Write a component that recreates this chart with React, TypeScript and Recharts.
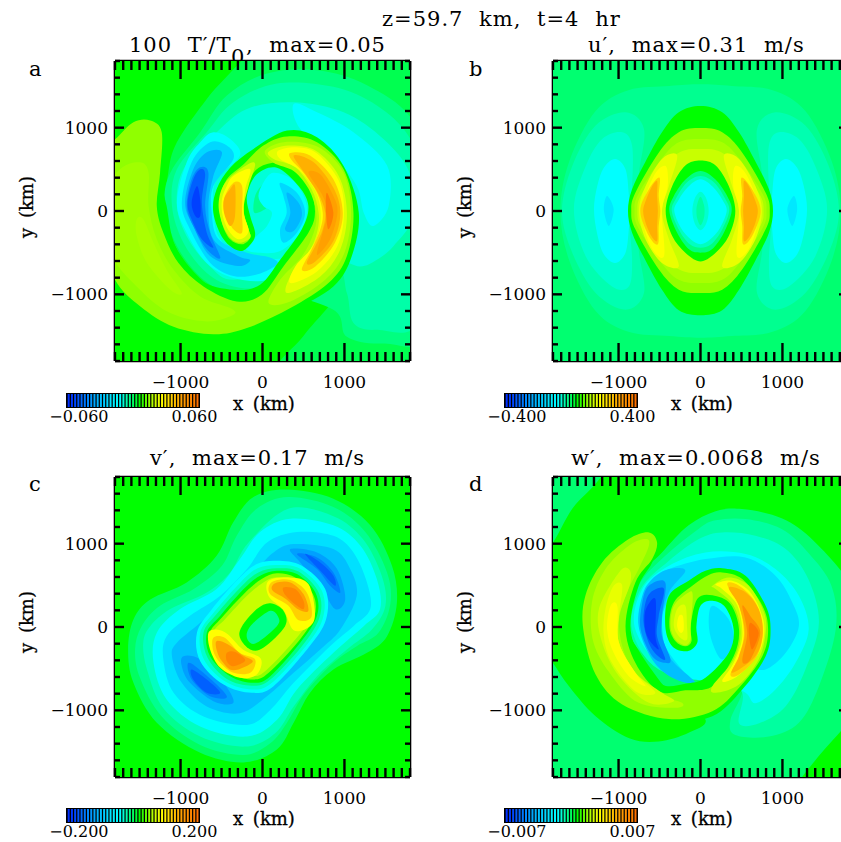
import React from 'react';
import { ScatterChart, Scatter, XAxis, YAxis, BarChart, Bar, Cell } from 'recharts';

type P = number[][];
// ---------- axis values ----------
const xTickValues = [-1800,-1700,-1600,-1500,-1400,-1300,-1200,-1100,-1000,-900,-800,-700,-600,-500,-400,-300,-200,-100,0,100,200,300,400,500,600,700,800,900,1000,1100,1200,1300,1400,1500,1600,1700,1800];
const yTickValues = [-1800,-1600,-1400,-1200,-1000,-800,-600,-400,-200,0,200,400,600,800,1000,1200,1400,1600,1800];
const majorTicks = [-1000,0,1000];
const colorbarSteps = [-20,-19,-18,-17,-16,-15,-14,-13,-12,-11,-10,-9,-8,-7,-6,-5,-4,-3,-2,-1,0,1,2,3,4,5,6,7,8,9,10,11,12,13,14,15,16,17,18,19,20];
const colorbarColors = ['#0030ff','#0038ff','#0048ff','#0058ff','#0068ff','#0078ff','#0088ff','#0098ff','#00a8ff','#00b4ff','#00c0ff','#00ccff','#00d8ff','#00e4ff','#00f0ff','#00f8ff','#00ffff','#00ffd8','#00ffb0','#00ff88','#00ff60','#00ff30','#00ff00','#30ff00','#60ff00','#90ff00','#b0ff00','#d0ff00','#e8ff00','#ffff00','#fff000','#ffe000','#ffd000','#ffc000','#ffb000','#ffa000','#ff9800','#ff9000','#ff8800','#ff8000','#ff7000'];
const fullField: P = [[-2400,2400],[2400,2400],[2400,-2400],[-2400,-2400]];

// ---------- panel a: 100 T'/T0 contours (km) ----------
const a1: P = [[-150,1950],[1000,2100],[2090,1950],[2200,0],[2090,-1950],[1000,-2100],[175,-1950],[500,-1500],[910,-1000],[800,-800],[400,-800],[-30,-905],[-350,-1025],[-720,-845],[-1065,-420],[-1175,60],[-1150,460],[-1045,825],[-680,1345],[-450,1600],[-250,1810]];
const a2: P = [[-760,945],[-435,1385],[55,1650],[665,1690],[1275,1510],[1845,1065],[2090,140],[2090,-1465],[1480,-1590],[1030,-1510],[865,-1185],[55,-945],[-355,-985],[-720,-825],[-1045,-420],[-1190,60],[-1125,460]];
const a3: P = [[-680,945],[-355,1305],[175,1530],[865,1490],[1395,1265],[1805,865],[2090,140],[1925,-1305],[1395,-1425],[1110,-1345],[1030,-985],[865,-665],[55,-905],[-355,-905],[-680,-745],[-965,-380],[-1105,60],[-1045,500]];
const a4: P = [[-600,905],[-190,1225],[380,1305],[990,1185],[1475,865],[1795,460],[1845,-60],[1600,-420],[1395,-585],[1190,-665],[865,-585],[255,-665],[-355,-825],[-640,-665],[-905,-340],[-1045,60],[-965,500]];
const a5: P = [[380,1285],[665,1185],[1110,945],[1520,545],[1540,60],[1355,-180],[1235,-20],[1150,300],[865,665],[460,985]];
const a6: P = [[-600,945],[-395,865],[-275,665],[-560,380],[-600,60],[-515,-340],[-110,-585],[255,-585],[55,-825],[-355,-805],[-680,-625],[-925,-260],[-1045,100],[-925,585],[-760,825]];
const a7: P = [[-640,825],[-435,785],[-355,625],[-600,300],[-620,-20],[-535,-340],[-190,-500],[100,-560],[180,-640],[-60,-760],[-355,-780],[-640,-620],[-885,-220],[-985,100],[-865,585]];
const a8: P = [[-680,705],[-495,705],[-600,420],[-660,60],[-600,-340],[-300,-540],[-150,-590],[-300,-660],[-640,-540],[-845,-180],[-945,100],[-845,500]];
const a9: P = [[-760,525],[-660,460],[-700,60],[-640,-260],[-515,-565],[-680,-460],[-845,-180],[-925,60],[-865,380]];
const a10: P = [[-760,500],[-700,440],[-740,100],[-680,-260],[-600,-440],[-740,-340],[-865,-100],[-915,100],[-845,380]];
const a11: P = [[-800,300],[-760,140],[-760,-60],[-820,-60],[-865,100]];
const aC5: P = [[135,460],[380,360],[540,60],[460,-260],[215,-480],[-50,-500],[-190,-470],[-190,-420],[-70,-300],[55,-180],[115,-20],[10,60],[-50,180],[10,340]];
const aC6: P = [[215,340],[420,220],[520,-20],[420,-260],[255,-380],[215,-220],[295,-20],[255,180]];
const aC7: P = [[295,220],[440,100],[480,-60],[380,-240],[275,-220],[340,-20]];
const aC2: P = [[10,320],[-90,180],[-100,-20],[55,40],[115,140],[95,260]];
const aP0: P = [[-1575,1065],[-1370,1085],[-1230,945],[-1250,460],[-1170,60],[-1065,-420],[-760,-825],[-355,-945],[-30,-885],[215,-585],[480,-220],[560,60],[440,300],[175,520],[-70,440],[-190,180],[-150,-60],[-90,-260],[-130,-380],[-275,-480],[-475,-340],[-600,-20],[-560,260],[-395,520],[-110,745],[300,965],[665,885],[990,540],[1175,-20],[1090,-540],[865,-905],[340,-1205],[-190,-1425],[-600,-1490],[-1085,-1390],[-1490,-1145],[-1800,-785],[-1980,-260],[-1980,745],[-1800,860]];
const aP1: P = [[-1575,1065],[-1370,1085],[-1230,945],[-1250,460],[-1290,60],[-1210,-260],[-1025,-625],[-720,-905],[-315,-1085],[-10,-1005],[255,-665],[560,-260],[640,-20],[580,260],[380,500],[155,580],[-70,500],[-210,260],[-230,-20],[-170,-220],[-150,-320],[-250,-400],[-395,-340],[-495,-140],[-515,140],[-435,380],[-230,560],[10,785],[300,895],[665,825],[990,500],[1110,-20],[1030,-540],[805,-865],[340,-1165],[-190,-1405],[-600,-1480],[-1085,-1390],[-1490,-1145],[-1800,-825],[-1980,-260],[-1980,745],[-1800,860]];
const aP2: P = [[-1740,500],[-1495,585],[-1390,460],[-1390,60],[-1290,-340],[-1085,-705],[-760,-1025],[-395,-1165],[-355,-1245],[-680,-1325],[-1125,-1225],[-1495,-945],[-1860,-500],[-1980,140]];
const aP3: P = [[-1535,-100],[-1455,-100],[-1330,-380],[-1170,-705],[-985,-985],[-1125,-945],[-1410,-625],[-1535,-300]];
const aR3: P = [[33,725],[300,830],[685,765],[990,460],[1080,-20],[1000,-500],[765,-825],[340,-1085],[75,-1105],[215,-825],[480,-545],[625,-260],[655,-20],[565,260],[380,480],[135,580]];
const aR5: P = [[75,710],[315,785],[645,725],[930,420],[1030,-20],[950,-460],[705,-785],[300,-985],[360,-745],[560,-505],[665,-260],[685,-20],[600,260],[400,525],[135,625]];
const aR6: P = [[195,725],[420,765],[665,690],[930,365],[995,-20],[915,-420],[665,-725],[340,-865],[400,-665],[580,-465],[685,-260],[710,-20],[645,240],[440,500],[215,625]];
const aR7: P = [[340,695],[580,665],[865,380],[980,-20],[885,-380],[645,-665],[480,-705],[600,-460],[705,-220],[735,-20],[665,220],[500,460],[360,605]];
const aR8: P = [[380,665],[625,585],[865,280],[950,-20],[865,-360],[645,-605],[540,-625],[645,-420],[735,-220],[765,-20],[685,200],[540,420]];
const aR9: P = [[560,460],[705,440],[865,180],[915,-20],[825,-340],[665,-525],[745,-220],[795,-20],[725,200]];
const aR10: P = [[785,220],[865,-20],[805,-220],[775,-20]];
const aL4: P = [[-210,540],[-90,565],[-170,300],[-230,20],[-170,-220],[-150,-320],[-275,-380],[-395,-320],[-495,-140],[-535,100],[-455,340]];
const aL6: P = [[-355,420],[-150,500],[-210,260],[-230,-20],[-170,-240],[-275,-340],[-395,-260],[-485,-60],[-495,140],[-435,300]];
const aL7: P = [[-355,340],[-250,300],[-250,-20],[-250,-260],[-355,-220],[-435,-60],[-470,140]];
const aL8: P = [[-395,260],[-335,300],[-335,-60],[-395,-180],[-470,-20],[-470,140]];

// ---------- panel b: u' contours (km) ----------
const b1: P = [[-1710,0],[-1600,600],[-1280,1200],[-880,1450],[-380,1500],[0,1520],[380,1500],[880,1450],[1280,1200],[1600,600],[1710,0],[1600,-600],[1280,-1200],[880,-1450],[380,-1500],[0,-1520],[-380,-1500],[-880,-1450],[-1280,-1200],[-1600,-600]];
const b2L: P = [[-1690,0],[-1565,540],[-1280,1025],[-915,1185],[-690,985],[-750,460],[-795,-20],[-750,-500],[-690,-985],[-915,-1185],[-1280,-985],[-1565,-500]];
const b2R: P = [[1690,0],[1565,540],[1280,1025],[915,1185],[690,985],[750,460],[795,-20],[750,-500],[690,-985],[915,-1185],[1280,-985],[1565,-500]];
const b3L: P = [[-1545,20],[-1400,540],[-1200,865],[-955,945],[-835,785],[-835,300],[-875,-20],[-835,-585],[-875,-905],[-1080,-905],[-1400,-545]];
const b3R: P = [[1545,20],[1400,540],[1200,865],[955,945],[835,785],[835,300],[875,-20],[835,-585],[875,-905],[1080,-905],[1400,-545]];
const b4L: P = [[-1300,20],[-1260,300],[-1180,520],[-1040,625],[-915,500],[-875,200],[-865,-20],[-875,-220],[-915,-500],[-1040,-625],[-1180,-520],[-1260,-280]];
const b4R: P = [[1300,20],[1260,300],[1180,520],[1040,625],[915,500],[875,200],[865,-20],[875,-220],[915,-500],[1040,-625],[1180,-520],[1260,-280]];
const b5L: P = [[-1180,20],[-1140,180],[-1060,20],[-1120,-180]];
const b5R: P = [[1180,20],[1140,180],[1060,20],[1120,-180]];
const bD0: P = [[0,1260],[265,1185],[470,945],[675,585],[835,260],[885,0],[835,-260],[675,-585],[470,-945],[265,-1190],[0,-1250],[-265,-1190],[-470,-945],[-675,-585],[-835,-260],[-885,0],[-835,260],[-675,585],[-470,945],[-265,1185]];
const bD1: P = [[0,995],[265,945],[510,700],[795,220],[845,0],[795,-220],[510,-700],[265,-945],[0,-985],[-265,-945],[-510,-700],[-795,-220],[-845,0],[-795,220],[-510,700],[-265,945]];
const bD2: P = [[0,865],[265,825],[480,620],[760,200],[805,0],[760,-200],[480,-620],[265,-825],[0,-865],[-265,-825],[-480,-620],[-760,-200],[-805,0],[-760,200],[-480,620],[-265,825]];
const bD3: P = [[0,745],[220,720],[440,560],[720,200],[770,0],[720,-200],[440,-560],[220,-720],[0,-745],[-220,-720],[-440,-560],[-720,-200],[-770,0],[-720,200],[-440,560],[-220,720]];
const bY1R: P = [[285,665],[470,625],[670,300],[750,0],[670,-340],[470,-625],[265,-665],[385,-340],[470,0],[385,300]];
const bY1L: P = [[-285,665],[-470,625],[-670,300],[-750,0],[-670,-340],[-470,-625],[-265,-665],[-385,-340],[-470,0],[-385,300]];
const bY2R: P = [[425,540],[570,420],[710,0],[610,-420],[445,-540],[470,0],[400,300]];
const bY2L: P = [[-425,540],[-570,420],[-710,0],[-610,-420],[-445,-540],[-470,0],[-400,300]];
const bY3R: P = [[500,400],[630,260],[735,0],[630,-300],[520,-400],[510,-180],[490,0],[510,180]];
const bY3L: P = [[-500,400],[-630,260],[-735,0],[-630,-300],[-520,-400],[-510,-180],[-490,0],[-510,180]];
const bY4R: P = [[530,360],[600,280],[670,120],[700,0],[670,-140],[600,-300],[530,-360],[530,-180],[520,0],[530,180]];
const bY4L: P = [[-530,360],[-600,280],[-670,120],[-700,0],[-670,-140],[-600,-300],[-530,-360],[-530,-180],[-520,0],[-530,180]];
const bH0: P = [[0,605],[185,545],[345,300],[425,0],[345,-300],[185,-500],[0,-605],[-185,-500],[-345,-300],[-425,0],[-345,300],[-185,545]];
const bH1: P = [[0,480],[180,380],[325,180],[380,0],[285,-260],[140,-460],[0,-500],[-140,-460],[-285,-260],[-380,0],[-325,180],[-180,380]];
const bH2: P = [[0,420],[170,340],[300,150],[350,0],[260,-230],[130,-400],[0,-440],[-130,-400],[-260,-230],[-350,0],[-300,150],[-170,340]];
const bH3: P = [[0,380],[150,290],[270,130],[320,0],[240,-200],[120,-340],[0,-400],[-120,-340],[-240,-200],[-320,0],[-270,130],[-150,290]];
const bH4: P = [[0,230],[70,150],[100,0],[70,-150],[0,-230],[-70,-150],[-100,0],[-70,150]];
const bH5: P = [[0,170],[40,80],[50,0],[40,-90],[0,-170],[-40,-90],[-50,0],[-40,80]];

// ---------- panel c: v' contours (km) ----------
const c1: P = [[295,1650],[865,1540],[1315,1220],[1580,735],[1640,290],[1520,-110],[1275,-310],[865,-510],[580,-790],[380,-1150],[175,-1470],[-230,-1625],[-760,-1510],[-1290,-1150],[-1575,-670],[-1640,-270],[-1575,90],[-1370,330],[-925,535],[-560,855],[-355,1260],[-110,1560]];
const c2: P = [[315,1560],[865,1440],[1255,1140],[1520,655],[1560,275],[1415,-70],[1150,-230],[865,-430],[520,-790],[295,-1155],[95,-1395],[-230,-1535],[-760,-1415],[-1230,-1075],[-1495,-610],[-1555,-270],[-1475,10],[-1250,255],[-840,455],[-495,735],[-315,1095],[-70,1420]];
const c3: P = [[315,1420],[865,1330],[1225,1055],[1455,615],[1500,255],[1335,-30],[1030,-270],[665,-590],[380,-955],[155,-1275],[-210,-1435],[-760,-1315],[-1210,-975],[-1410,-510],[-1455,-190],[-1370,10],[-1125,215],[-680,415],[-395,655],[-170,1015]];
const c4: P = [[340,1300],[865,1220],[1195,975],[1395,575],[1435,215],[1235,10],[865,-310],[420,-750],[175,-1115],[-190,-1315],[-760,-1195],[-1170,-870],[-1330,-430],[-1290,-70],[-1005,215],[-560,455],[-275,815],[-30,1140]];
const c5: P = [[420,1140],[865,1095],[1110,895],[1275,535],[1315,215],[1110,10],[825,-230],[380,-670],[95,-995],[-190,-1175],[-720,-1075],[-1085,-790],[-1210,-390],[-1170,-110],[-885,135],[-515,375],[-190,695],[55,1015]];
const c6: P = [[380,995],[865,935],[1070,695],[1150,375],[950,-30],[705,-270],[380,-550],[55,-830],[-275,-1035],[-680,-955],[-985,-670],[-1105,-350],[-1045,-190],[-760,50],[-435,335],[-70,695],[135,895]];
const c7a: P = [[340,935],[665,895],[910,695],[1010,335],[885,215],[705,495],[460,775]];
const c7b: P = [[-965,-350],[-760,-390],[-475,-670],[-355,-910],[-600,-890],[-885,-670],[-985,-470]];
const c8a: P = [[420,875],[665,835],[865,655],[950,415],[825,495],[665,695]];
const c8b: P = [[-905,-430],[-720,-550],[-435,-830],[-640,-830],[-865,-630]];
const c9a: P = [[520,875],[705,775],[865,615],[885,495],[725,655]];
const c9b: P = [[-865,-510],[-680,-630],[-515,-790],[-680,-790],[-845,-630]];
const cIa: P = [[175,795],[480,735],[765,455],[775,90],[560,-250],[135,-710],[-130,-790],[-475,-690],[-760,-410],[-800,-70],[-620,210],[-295,575],[-70,755]];
const cIb: P = [[175,745],[460,700],[725,435],[735,100],[520,-240],[115,-670],[-130,-750],[-455,-655],[-715,-390],[-760,-70],[-590,180],[-270,535],[-60,705]];
const cI0: P = [[175,705],[440,665],[685,415],[695,115],[480,-230],[95,-630],[-130,-705],[-435,-625],[-670,-370],[-720,-70],[-560,155],[-250,495],[-50,655]];
const cI1: P = [[175,675],[420,635],[645,415],[665,135],[460,-190],[95,-590],[-110,-670],[-395,-590],[-640,-350],[-680,-70],[-515,135],[-230,455],[-30,615]];
const cI2: P = [[175,645],[400,595],[615,395],[635,135],[440,-170],[75,-550],[-110,-630],[-375,-560],[-600,-330],[-640,-70],[-495,115],[-210,415],[-10,575]];
const cI3: P = [[155,595],[380,555],[575,375],[600,135],[400,-150],[55,-510],[-110,-590],[-355,-520],[-560,-310],[-600,-70],[-455,95],[-190,375],[10,535]];
const cY1a: P = [[75,555],[340,595],[560,515],[640,175],[580,10],[380,-40],[260,200],[75,370]];
const cY1b: P = [[-660,-70],[-560,-30],[-420,-90],[-240,-270],[-20,-380],[-70,-570],[-275,-610],[-515,-490],[-640,-270]];
const cY2a: P = [[115,540],[340,565],[540,415],[600,130],[440,80],[310,260],[90,400]];
const cY2b: P = [[-600,-130],[-460,-130],[-280,-310],[-90,-390],[-150,-550],[-355,-550],[-515,-430],[-600,-290]];
const cY3a: P = [[155,525],[340,535],[500,395],[560,195],[440,210],[280,340],[120,440]];
const cY3b: P = [[-560,-170],[-420,-210],[-240,-340],[-120,-420],[-355,-520],[-495,-410],[-555,-290]];
const cY4a: P = [[255,475],[400,455],[500,315],[500,215],[400,270],[280,380]];
const cY4b: P = [[-435,-310],[-335,-300],[-210,-400],[-355,-470],[-435,-410]];
const cH0: P = [[95,285],[255,195],[275,10],[10,-250],[-150,-270],[-275,-130],[-250,10],[-70,215]];
const cH1: P = [[95,195],[195,115],[175,10],[-70,-190],[-170,-170],[-190,-70],[-110,50]];

// ---------- panel d: w' contours (km) ----------
const d1: P = [[-2000,975],[-1830,975],[-1565,1420],[-1280,1720],[-1130,1950],[-1280,2100],[-2000,2100]];
const d2: P = [[-145,1220],[185,1390],[505,1415],[990,1305],[1395,1020],[1850,455],[2000,-300],[1850,-1030],[1730,-1230],[1485,-1500],[1240,-1800],[1150,-1950],[-300,-2100],[-2000,-2000],[-2000,-200],[-1830,-390],[-1605,-710],[-1280,-1070],[-870,-1335],[-510,-1375],[-145,-1270],[60,-1110],[-345,-830],[-875,-30],[-755,575],[-470,895]];
const d3: P = [[-20,1180],[185,1280],[550,1295],[990,1175],[1315,890],[1600,490],[1650,-30],[1445,-710],[1200,-1150],[835,-1315],[425,-1295],[365,-1115],[510,-750],[265,-630],[-550,-430],[-875,-30],[-755,495],[-430,855]];
const d4: P = [[-20,1055],[265,1135],[670,1095],[1040,935],[1315,575],[1445,50],[1280,-510],[1040,-950],[715,-1155],[470,-1155],[510,-790],[225,-670],[-510,-510],[-835,-30],[-730,455],[-385,795]];
const d5: P = [[-385,735],[60,895],[550,875],[915,695],[1200,375],[1320,-30],[1160,-430],[915,-750],[670,-915],[550,-790],[265,-670],[-385,-550],[-795,-30],[-710,455]];
const d6: P = [[-385,695],[60,815],[550,835],[915,615],[1120,295],[1200,10],[1040,-310],[795,-510],[630,-430],[670,-30],[510,450],[185,655],[-265,455],[-470,130],[-430,-230],[-145,-630],[-385,-550],[-630,-190],[-710,255],[-550,575]];
const d7: P = [[-590,575],[-385,695],[-185,675],[-385,415],[-470,50],[-385,-350],[-60,-670],[-345,-610],[-590,-390],[-755,10],[-710,375]];
const d8: P = [[-630,495],[-430,535],[-470,130],[-470,-110],[-365,-390],[-430,-430],[-590,-350],[-730,-30],[-710,295]];
const d9: P = [[-610,415],[-445,455],[-510,130],[-530,-110],[-430,-390],[-590,-270],[-690,10],[-680,255]];
const d10: P = [[-665,215],[-550,335],[-550,-110],[-510,-270],[-630,-150],[-680,10]];
const d11: P = [[145,255],[345,90],[405,-190],[265,-390],[145,-190],[100,50]];
const dP0: P = [[-630,1135],[-530,1015],[-590,775],[-755,495],[-855,10],[-730,-390],[-470,-690],[-185,-680],[60,-610],[345,-310],[405,-30],[305,235],[145,315],[0,255],[-50,10],[-40,-190],[-160,-290],[-345,-230],[-430,10],[-385,375],[-145,555],[60,675],[265,705],[550,615],[795,255],[855,-30],[795,-350],[510,-750],[145,-1070],[-385,-1130],[-955,-950],[-1280,-590],[-1430,-30],[-1405,375],[-1200,775],[-875,1055]];
const dP1: P = [[-630,1135],[-530,1015],[-590,815],[-795,535],[-915,10],[-795,-430],[-510,-770],[-185,-760],[145,-710],[405,-350],[470,-30],[365,275],[145,380],[-40,335],[-120,10],[-110,-170],[-185,-230],[-305,-170],[-380,10],[-325,295],[-100,495],[100,625],[265,655],[510,575],[755,255],[825,-30],[755,-350],[470,-730],[145,-1010],[-385,-1105],[-955,-930],[-1280,-570],[-1430,-30],[-1405,375],[-1200,775],[-875,1055]];
const dA2: P = [[-875,975],[-670,1055],[-630,975],[-755,695],[-915,375],[-995,10],[-875,-430],[-550,-790],[-225,-910],[-305,-970],[-755,-910],[-1080,-590],[-1305,-190],[-1325,295],[-1160,695]];
const dA3: P = [[-995,655],[-875,695],[-855,535],[-995,130],[-995,-190],[-795,-550],[-470,-790],[-325,-890],[-630,-910],[-995,-590],[-1200,-190],[-1240,215]];
const dA4: P = [[-1060,495],[-955,495],[-995,130],[-995,-190],[-795,-550],[-550,-790],[-795,-770],[-1080,-430],[-1180,-110],[-1160,215]];
const dA5: P = [[-1100,250],[-1015,250],[-995,-190],[-795,-550],[-670,-710],[-875,-590],[-1060,-310],[-1140,-30]];
const dR0: P = [[145,495],[345,595],[590,495],[775,175],[795,-70],[710,-390],[470,-690],[185,-790],[145,-710],[405,-390],[490,-70],[405,255],[185,455]];
const dR1: P = [[185,515],[385,555],[610,415],[755,130],[775,-110],[690,-350],[450,-590],[265,-650],[405,-430],[510,-110],[450,255],[265,455]];
const dR2: P = [[325,515],[470,495],[670,295],[760,-30],[690,-350],[470,-570],[365,-570],[470,-350],[530,-70],[470,255]];
const dR3: P = [[345,475],[550,415],[710,215],[760,-70],[670,-350],[385,-550],[470,-350],[540,-70],[470,255]];
const dR4: P = [[510,255],[610,130],[730,-70],[610,-390],[510,-410],[570,-70]];
const dR5: P = [[610,50],[710,-70],[630,-270],[590,-70]];
const dL1: P = [[-325,255],[-145,415],[-95,375],[-120,10],[-120,-150],[-185,-220],[-305,-150],[-365,10]];
const dL2: P = [[-285,215],[-185,255],[-165,10],[-165,-150],[-245,-130],[-325,10]];
const dL3: P = [[-265,130],[-215,130],[-205,-30],[-245,-70],[-285,10]];

// ---------- paint order: [contour, fill] ----------
type Layer = [P, string];
const layersA: Layer[] = [[fullField,'#00ff00'],[a1,'#00ff50'],[a2,'#00ff80'],[a3,'#00ffa8'],[a4,'#00ffd8'],[a5,'#00ffff'],[a6,'#00ffff'],[a7,'#00d8ff'],[a8,'#00b0ff'],[a9,'#0088ff'],[a10,'#0060ff'],[a11,'#0040ff'],[aC2,'#00ff90'],[aC5,'#00ffff'],[aC6,'#00d8ff'],[aC7,'#00b8ff'],[aP0,'#00ff00'],[aP1,'#90ff00'],[aP2,'#a0ff00'],[aP3,'#aaff00'],[aR3,'#b0ff00'],[aR5,'#e0ff00'],[aR6,'#ffff00'],[aR7,'#ffd000'],[aR8,'#ffb000'],[aR9,'#ffa000'],[aR10,'#ff8000'],[aL4,'#d0ff00'],[aL6,'#ffff00'],[aL7,'#ffd000'],[aL8,'#ffb000']];
const layersB: Layer[] = [[fullField,'#00ff70'],[b1,'#00ff90'],[b2L,'#00ffb0'],[b2R,'#00ffb0'],[b3L,'#00ffd0'],[b3R,'#00ffd0'],[b4L,'#00ffff'],[b4R,'#00ffff'],[b5L,'#00e8ff'],[b5R,'#00e8ff'],[bD0,'#00ff00'],[bD1,'#90ff00'],[bD2,'#a8ff00'],[bD3,'#c8ff00'],[bY1R,'#e8ff00'],[bY1L,'#e8ff00'],[bY2R,'#ffff00'],[bY2L,'#ffff00'],[bY3R,'#ffd000'],[bY3L,'#ffd000'],[bY4R,'#ffb000'],[bY4L,'#ffb000'],[bH0,'#00ff00'],[bH1,'#00ff80'],[bH2,'#00ffc0'],[bH3,'#00ffff'],[bH4,'#00ffd0'],[bH5,'#00ffa0']];
const layersC: Layer[] = [[fullField,'#00ff00'],[c1,'#00ff60'],[c2,'#00ff90'],[c3,'#00ffc0'],[c4,'#00ffff'],[c5,'#00e0ff'],[c6,'#00c0ff'],[c7a,'#00a0ff'],[c7b,'#00a0ff'],[c8a,'#0080ff'],[c8b,'#0080ff'],[c9a,'#0060ff'],[c9b,'#0060ff'],[cIa,'#00ffff'],[cIb,'#00ffd0'],[cI0,'#00ff80'],[cI1,'#00ff00'],[cI2,'#90ff00'],[cI3,'#c8ff00'],[cY1a,'#ffff00'],[cY1b,'#ffff00'],[cY2a,'#ffd000'],[cY2b,'#ffd000'],[cY3a,'#ffa000'],[cY3b,'#ffa000'],[cY4a,'#ff8800'],[cY4b,'#ff8800'],[cH0,'#00ff00'],[cH1,'#00ff90']];
const layersD: Layer[] = [[fullField,'#00ff00'],[d1,'#00ff70'],[d2,'#00ff70'],[d3,'#00ffa0'],[d4,'#00ffd0'],[d5,'#00ffff'],[d6,'#00e0ff'],[d7,'#00c0ff'],[d8,'#0090ff'],[d9,'#0060ff'],[d10,'#0040ff'],[d11,'#00e0ff'],[dP0,'#00ff00'],[dP1,'#90ff00'],[dA2,'#b0ff00'],[dA3,'#d0ff00'],[dA4,'#e8ff00'],[dA5,'#ffff00'],[dR0,'#c8ff00'],[dR1,'#ffff00'],[dR2,'#ffd000'],[dR3,'#ffb000'],[dR4,'#ff9000'],[dR5,'#ff7800'],[dL1,'#c0ff00'],[dL2,'#e0ff00'],[dL3,'#ffff00']];

const FONT = '"DejaVu Serif", serif';
const toRows = (pts: P) => pts.map(([x, y]) => ({ x, y }));
const noMark = () => <g />;

// closed smooth outline through the points the library has already scaled
function closedSpline(pts: { x: number; y: number }[]) {
  const n = pts.length;
  let d = `M${pts[0].x},${pts[0].y}`;
  for (let i = 0; i < n; i++) {
    const p0 = pts[(i - 1 + n) % n], p1 = pts[i], p2 = pts[(i + 1) % n], p3 = pts[(i + 2) % n];
    d += `C${p1.x + (p2.x - p0.x) / 6},${p1.y + (p2.y - p0.y) / 6} ${p2.x - (p3.x - p1.x) / 6},${p2.y - (p3.y - p1.y) / 6} ${p2.x},${p2.y}`;
  }
  return d + 'Z';
}

const label = (v: number) => (v < 0 ? `\u2212${Math.abs(v)}` : `${v}`);

const XTick = (side: 'top' | 'bottom') => (p: any) => {
  const major = majorTicks.includes(p.payload.value);
  const len = major ? 18 : 9;
  const dir = side === 'bottom' ? -1 : 1;
  return (
    <g>
      <line x1={p.x} x2={p.x} y1={p.y} y2={p.y + dir * len} stroke="#000" strokeWidth={2.4} />
      {side === 'bottom' && major && (
        <text x={p.x} y={p.y + 27} textAnchor="middle" fontSize={17} fontFamily={FONT} fill="#000">{label(p.payload.value)}</text>
      )}
    </g>
  );
};
const YTick = (side: 'left' | 'right') => (p: any) => {
  const major = majorTicks.includes(p.payload.value);
  const len = major ? 9 : 5;
  const dir = side === 'left' ? 1 : -1;
  return (
    <g>
      <line x1={p.x} x2={p.x + dir * len} y1={p.y} y2={p.y} stroke="#000" strokeWidth={2.4} />
      {side === 'left' && major && (
        <text x={p.x - 7} y={p.y + 6} textAnchor="end" fontSize={17} fontFamily={FONT} fill="#000">{label(p.payload.value)}</text>
      )}
    </g>
  );
};

const frameLine = { stroke: '#000', strokeWidth: 2.6 };
const domain: [number, number] = [-1800, 1800];

function Panel({ layers, left, top }: { layers: Layer[]; left: number; top: number }) {
  return (
    <div style={{ position: 'absolute', left, top }}>
      <ScatterChart width={440} height={400} margin={{ left: 114, top: 60, right: 29, bottom: 38 }}>
        <XAxis type="number" dataKey="x" domain={domain} allowDataOverflow ticks={xTickValues} interval={0} height={1} tickSize={0} tickMargin={0} tickLine={false} axisLine={frameLine} tick={XTick('bottom')} />
        <XAxis xAxisId="top" orientation="top" type="number" dataKey="x" domain={domain} allowDataOverflow ticks={xTickValues} interval={0} height={1} tickSize={0} tickMargin={0} tickLine={false} axisLine={frameLine} tick={XTick('top')} />
        <YAxis type="number" dataKey="y" domain={domain} allowDataOverflow ticks={yTickValues} interval={0} width={1} tickSize={0} tickMargin={0} tickLine={false} axisLine={frameLine} tick={YTick('left')} />
        <YAxis yAxisId="right" orientation="right" type="number" dataKey="y" domain={domain} allowDataOverflow ticks={yTickValues} interval={0} width={1} tickSize={0} tickMargin={0} tickLine={false} axisLine={frameLine} tick={YTick('right')} />
        {layers.map(([pts, fill], i) => (
          <Scatter key={i} data={toRows(pts)} isAnimationActive={false} shape={noMark}
            line={(lp: any) => <path d={closedSpline(lp.points)} fill={fill} stroke="none" />} />
        ))}
      </ScatterChart>
    </div>
  );
}

function Colorbar({ left, top, lo, hi }: { left: number; top: number; lo: string; hi: string }) {
  const rows = colorbarSteps.map((step) => ({ step, h: 1 }));
  return (
    <>
      <div style={{ position: 'absolute', left, top, width: 132, height: 13, background: '#000', border: '1px solid #000' }}>
        <BarChart width={132} height={13} data={rows} margin={{ left: 0, right: 0, top: 0, bottom: 0 }} barCategoryGap={0.7}>
          <XAxis dataKey="step" hide />
          <YAxis hide domain={[0, 1]} />
          <Bar dataKey="h" isAnimationActive={false}>
            {rows.map((_, i) => <Cell key={i} fill={colorbarColors[i]} />)}
          </Bar>
        </BarChart>
      </div>
      <div style={{ position: 'absolute', left: left - 40, top: top + 14, width: 83, textAlign: 'right', font: `16px ${FONT}`, lineHeight: '19px' }}>{lo}</div>
      <div style={{ position: 'absolute', left: left + 106, top: top + 14, font: `16px ${FONT}`, lineHeight: '19px' }}>{hi}</div>
    </>
  );
}

const T = (p: any) => <text fontFamily={FONT} fontSize={21} letterSpacing={1} wordSpacing={8} fill="#000" {...p} />;
const AxisWords = ({ dx, dy }: { dx: number; dy: number }) => (
  <g fontFamily={FONT} fontSize={18} fill="#000" stroke="#000" strokeWidth={0.3} wordSpacing={4}>
    <text x={233 + dx} y={410 + dy}>x (km)</text>
    <text transform={`translate(${33 + dx},${207 + dy}) rotate(-90)`} textAnchor="middle">y (km)</text>
  </g>
);

export default function App() {
  return (
    <div style={{ position: 'absolute', left: 0, top: 0, width: 841, height: 842, overflow: 'hidden', background: '#fff' }}>
      <svg width={841} height={842} style={{ position: 'absolute', left: 0, top: 0 }}>
        <T x={382} y={26}>z=59.7 km, t=4 hr</T>
        <T x={129} y={52}>100 T′/T</T>
        <T x={231} y={64}>0</T>
        <T x={246} y={52}>, max=0.05</T>
        <T x={588} y={52}>u′, max=0.31 m/s</T>
        <T x={150} y={465}>v′, max=0.17 m/s</T>
        <T x={571} y={465}>w′, max=0.0068 m/s</T>
        <T x={29} y={76}>a</T>
        <T x={469} y={76}>b</T>
        <T x={29} y={491}>c</T>
        <T x={469} y={491}>d</T>
        <AxisWords dx={0} dy={0} />
        <AxisWords dx={438} dy={0} />
        <AxisWords dx={0} dy={415} />
        <AxisWords dx={438} dy={415} />
      </svg>
      <Panel layers={layersA} left={0} top={0} />
      <Panel layers={layersB} left={437.6} top={0} />
      <Panel layers={layersC} left={0} top={416.4} />
      <Panel layers={layersD} left={437.6} top={416.4} />
      <Colorbar left={65.5} top={393} lo="−0.060" hi="0.060" />
      <Colorbar left={503.5} top={393} lo="−0.400" hi="0.400" />
      <Colorbar left={65.5} top={808} lo="−0.200" hi="0.200" />
      <Colorbar left={503.5} top={808} lo="−0.007" hi="0.007" />
    </div>
  );
}
